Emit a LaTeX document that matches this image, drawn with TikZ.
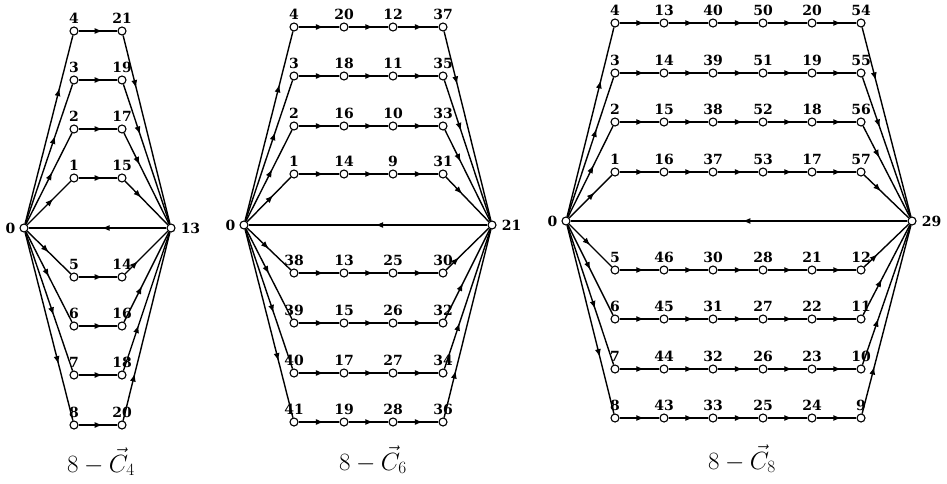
\documentclass[tikz,border=0pt]{standalone}
\usepackage{fontspec}
\setmainfont{DejaVu Serif}
\usetikzlibrary{decorations.markings,arrows.meta}
\tikzset{
 vtx/.style={circle,draw,fill=white,line width=1.1pt,inner sep=0pt,minimum size=8pt},
 lab/.style={font=\fontsize{14}{16}\selectfont\bfseries,inner sep=0pt},
 edge/.style={line width=1.4pt},
 ma/.style={edge,postaction={decorate,decoration={markings,mark=at position #1 with {\arrow{Latex[length=8pt,width=6pt]}}}}},
 captxt/.style={font=\fontsize{25}{29}\selectfont,inner sep=0pt,anchor=base},
}
\newcommand\GRow[7]{%
 \foreach \xx/\ll [count=\cc] in {#4}{\node[vtx,label={[lab,label distance=3pt]above:\ll}] (#1-#2-\cc) at (\xx,#3) {};}
 \foreach \cc in {2,...,#5}{\pgfmathtruncatemacro\pp{\cc-1}\draw[ma=0.62] (#1-#2-\pp) -- (#1-#2-\cc);}
 \draw[ma=#6] (#1-L) -- (#1-#2-1);
 \draw[ma=#7] (#1-#2-#5) -- (#1-R);
}
\begin{document}
\begin{tikzpicture}[x=1pt,y=-1pt]
\useasboundingbox (0,0) rectangle (947,483);
% ---------- left graph ----------
\node[vtx,label={[lab,label distance=4pt]left:0}] (A-L) at (24,228) {};
\node[vtx,label={[lab,label distance=5pt]right:13}] (A-R) at (171,228) {};
\draw[ma=0.47] (A-R) -- (A-L);
\GRow{A}{4}{31}{74/4,122/21}{2}{0.72}{0.28}
\GRow{A}{3}{80}{74/3,122/19}{2}{0.63}{0.36}
\GRow{A}{2}{129}{74/2,122/17}{2}{0.57}{0.35}
\GRow{A}{1}{178}{74/1,122/15}{2}{0.6}{0.38}
\GRow{A}{5}{277}{74/5,122/14}{2}{0.5}{0.3}
\GRow{A}{6}{326}{74/6,122/16}{2}{0.5}{0.4}
\GRow{A}{7}{375}{74/7,122/18}{2}{0.6}{0.33}
\GRow{A}{8}{425}{74/8,122/20}{2}{0.7}{0.25}
\node[captxt] (capA) at (101,472) {$8-\vec{C}_4$};
% ---------- middle graph ----------
\node[vtx,label={[lab,label distance=4pt]left:0}] (B-L) at (244,225) {};
\node[vtx,label={[lab,label distance=5pt]right:21}] (B-R) at (492,225) {};
\draw[ma=0.47] (B-R) -- (B-L);
\GRow{B}{4}{27}{294/4,344/20,393/12,443/37}{4}{0.72}{0.28}
\GRow{B}{3}{76}{294/3,344/18,393/11,443/35}{4}{0.63}{0.36}
\GRow{B}{2}{126}{294/2,344/16,393/10,443/33}{4}{0.57}{0.35}
\GRow{B}{1}{174}{294/1,344/14,393/9,443/31}{4}{0.6}{0.38}
\GRow{B}{5}{273}{294/38,344/13,393/25,443/30}{4}{0.5}{0.3}
\GRow{B}{6}{323}{294/39,344/15,393/26,443/32}{4}{0.5}{0.4}
\GRow{B}{7}{373}{294/40,344/17,393/27,443/34}{4}{0.6}{0.33}
\GRow{B}{8}{422}{294/41,344/19,393/28,443/36}{4}{0.7}{0.25}
\node[captxt] (capB) at (373,470) {$8-\vec{C}_6$};
% ---------- right graph ----------
\node[vtx,label={[lab,label distance=4pt]left:0}] (C-L) at (566,221) {};
\node[vtx,label={[lab,label distance=5pt]right:29}] (C-R) at (912,221) {};
\draw[ma=0.49] (C-R) -- (C-L);
\GRow{C}{4}{23}{615/4,664/13,713/40,763/50,812/20,861/54}{6}{0.72}{0.28}
\GRow{C}{3}{73}{615/3,664/14,713/39,763/51,812/19,861/55}{6}{0.63}{0.36}
\GRow{C}{2}{122}{615/2,664/15,713/38,763/52,812/18,861/56}{6}{0.57}{0.35}
\GRow{C}{1}{172}{615/1,664/16,713/37,763/53,812/17,861/57}{6}{0.6}{0.38}
\GRow{C}{5}{270}{615/5,664/46,713/30,763/28,812/21,861/12}{6}{0.5}{0.3}
\GRow{C}{6}{319}{615/6,664/45,713/31,763/27,812/22,861/11}{6}{0.5}{0.4}
\GRow{C}{7}{369}{615/7,664/44,713/32,763/26,812/23,861/10}{6}{0.6}{0.33}
\GRow{C}{8}{418}{615/8,664/43,713/33,763/25,812/24,861/9}{6}{0.7}{0.25}
\node[captxt] (capC) at (742,469) {$8-\vec{C}_8$};
\end{tikzpicture}
\end{document}
